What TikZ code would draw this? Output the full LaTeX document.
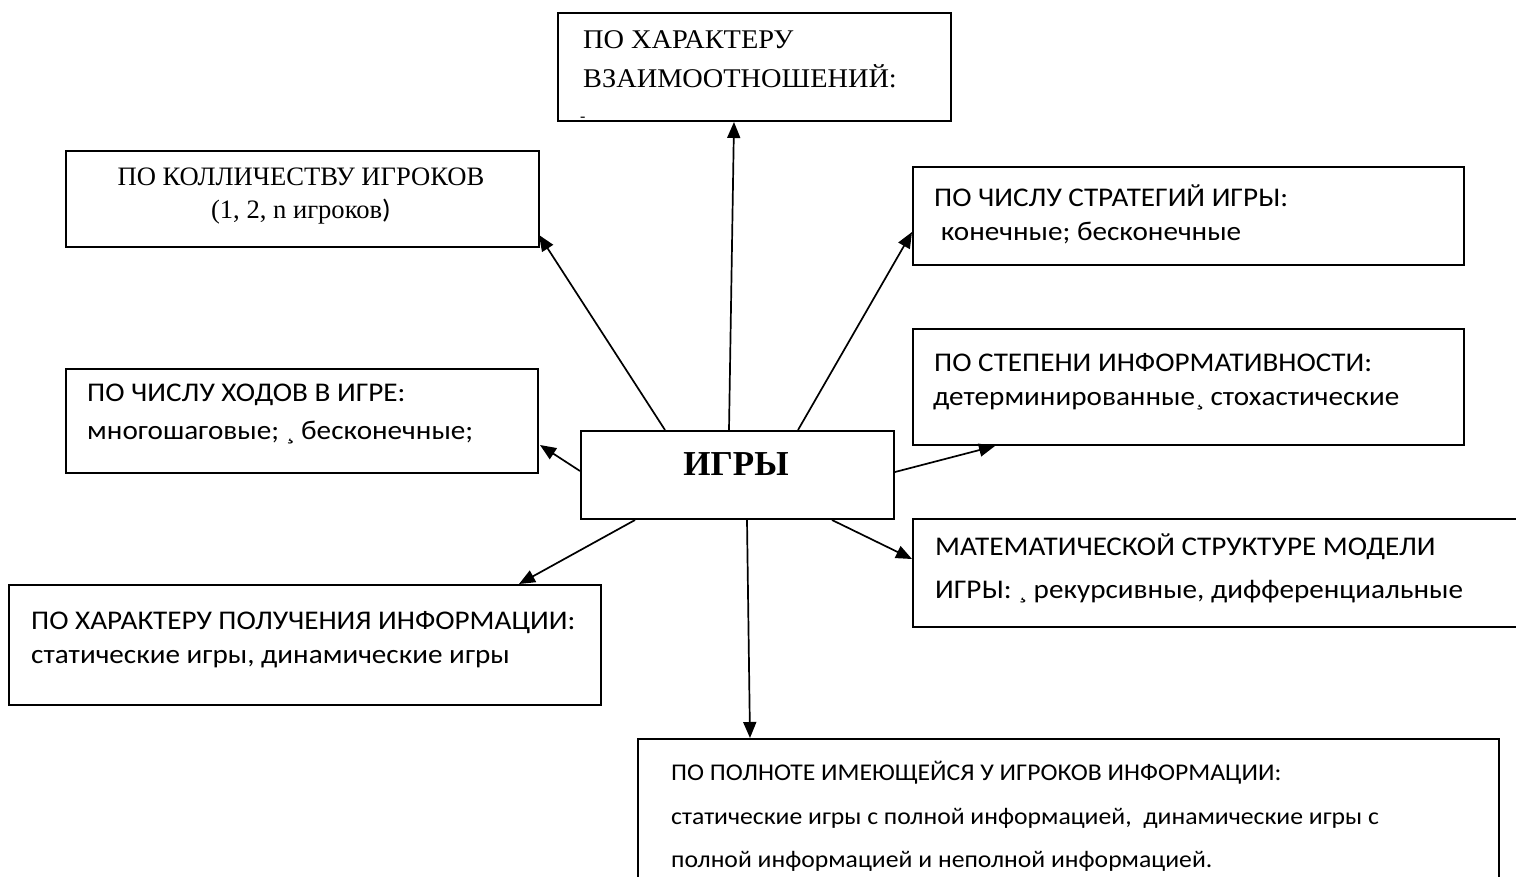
\documentclass[tikz,border=0pt]{standalone}
\usepackage{fontspec}
\setmainfont{Liberation Serif}
\newfontfamily\timeswide[FakeStretch=1.05]{Liberation Serif}
\newfontfamily\carlitofont[FakeStretch=1.08]{Carlito}
\newfontfamily\carlitosmall[FakeStretch=1.07]{Carlito}
\usetikzlibrary{arrows.meta,calc}
\begin{document}
\begin{tikzpicture}[x=1pt,y=-1pt,
  box/.style={draw,line width=2pt,inner sep=0pt,anchor=north west},
  arr/.style={line width=1.7pt,-{Triangle[length=16pt,width=13pt]}},
  tm/.style={inner sep=0pt,anchor=base west,font=\timeswide\fontsize{27}{30}\selectfont},
  tp/.style={inner sep=0pt,anchor=base,font=\fontsize{26.6}{30}\selectfont},
  cb/.style={inner sep=0pt,anchor=base west,font=\carlitofont\fontsize{27}{30}\selectfont},
  cc/.style={inner sep=0pt,anchor=base west,font=\carlitosmall\fontsize{24}{28}\selectfont}]
\useasboundingbox (0,0) rectangle (1516,876);
% boxes
\node[box,minimum width=393pt,minimum height=108pt] (top) at (557,12) {};
\node[box,minimum width=473pt,minimum height=96pt] (pl) at (65,150) {};
\node[box,minimum width=551pt,minimum height=98pt] (st) at (912,166) {};
\node[box,minimum width=551pt,minimum height=116pt] (inf) at (912,328) {};
\node[box,minimum width=472pt,minimum height=104pt] (mv) at (65,368) {};
\node[box,minimum width=313pt,minimum height=88pt] (c) at (580,430) {};
\node[box,minimum width=610pt,minimum height=108pt] (ms) at (912,518) {};
\node[box,minimum width=592pt,minimum height=120pt] (ia) at (8,584) {};
\node[box,minimum width=861pt,minimum height=150pt] (bt) at (637,738) {};
% texts
\node[tm] (t1) at (583,48) {ПО ХАРАКТЕРУ};
\node[tm] (t2) at (583,87) {ВЗАИМООТНОШЕНИЙ:};
\node[inner sep=0pt,anchor=base west,font=\fontsize{16}{16}\selectfont] (t3) at (580,121) {-};
\node[tp] (p1) at (301,185) {ПО КОЛЛИЧЕСТВУ ИГРОКОВ};
\node[tp] (p2) at (301,218) {(1, 2, n игроков{\carlitofont)}};
\node[cb] (s1) at (934,206) {ПО ЧИСЛУ СТРАТЕГИЙ ИГРЫ:};
\node[cb] (s2) at (934,240) {\ конечные; бесконечные};
\node[cb] (i1) at (934,371) {ПО СТЕПЕНИ ИНФОРМАТИВНОСТИ:};
\node[cb] (i2) at (933,405) {детерминированные¸ стохастические};
\node[cb] (m1) at (87,401) {ПО ЧИСЛУ ХОДОВ В ИГРЕ:};
\node[cb] (m2) at (87,439) {многошаговые; ¸ бесконечные;};
\node[inner sep=0pt,anchor=base,font=\bfseries\fontsize{35}{40}\selectfont] (g) at (736,475) {ИГРЫ};
\node[cb] (ms1) at (935,555) {МАТЕМАТИЧЕСКОЙ СТРУКТУРЕ МОДЕЛИ};
\node[cb] (ms2) at (935,598) {ИГРЫ: ¸ рекурсивные, дифференциальные};
\node[cb] (a1) at (31,629) {ПО ХАРАКТЕРУ ПОЛУЧЕНИЯ ИНФОРМАЦИИ:};
\node[cb] (a2) at (31,663) {статические игры, динамические игры};
\node[cc] (b1) at (671,780) {ПО ПОЛНОТЕ ИМЕЮЩЕЙСЯ У ИГРОКОВ ИНФОРМАЦИИ:};
\node[cc] (b2) at (671,824) {статические игры с полной информацией,\ \ динамические игры с};
\node[cc] (b3) at (671,867) {полной информацией и неполной информацией.};
% arrows
\draw[arr] ($(c.north west)+(149,0)$) -- ($(top.south west)+(177,0)$);
\draw[arr] ($(c.north west)+(85,0)$) -- ($(pl.south east)+(-1,-13)$);
\draw[arr] ($(c.north west)+(218,0)$) -- ($(st.north west)+(0,66)$);
\draw[arr] ($(c.north east)+(0,42)$) -- ($(inf.south west)+(83,0)$);
\draw[arr] ($(c.north west)+(0,41)$) -- ($(mv.north east)+(1,77)$);
\draw[arr] ($(c.south west)+(55,0)$) -- ($(ia.north west)+(511,0)$);
\draw[arr] ($(c.south west)+(167,0)$) -- ($(bt.north west)+(113,0)$);
\draw[arr] ($(c.south west)+(252,0)$) -- ($(ms.north west)+(0,41)$);
\end{tikzpicture}
\end{document}
